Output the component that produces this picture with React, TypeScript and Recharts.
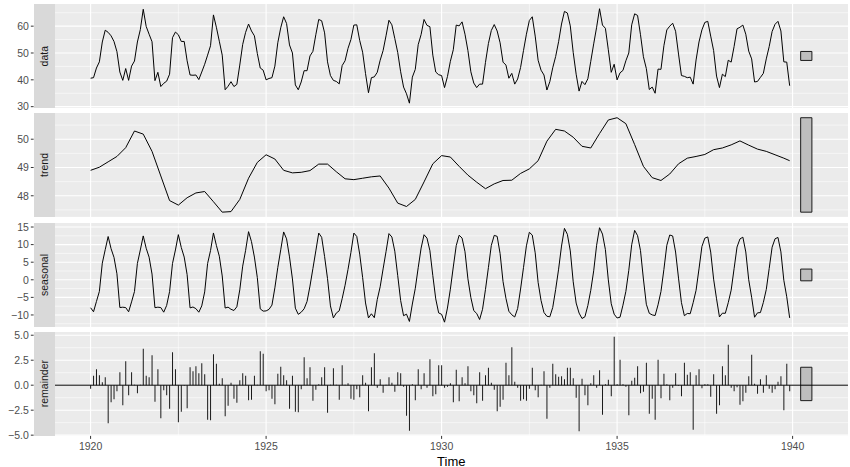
import React from "react";
import {
  ComposedChart,
  Line,
  Bar,
  XAxis,
  YAxis,
  CartesianGrid,
  ReferenceLine,
  ReferenceArea,
} from "recharts";

// monthly Nottingham temperatures, Jan 1920 .. Dec 1939
const firstYear = 1920;
const temperature = [
  40.6, 40.8, 44.4, 46.7, 54.1, 58.5, 57.7, 56.4, 54.3, 50.5, 42.9, 39.8,
  44.2, 39.8, 45.1, 47.0, 54.1, 58.7, 66.3, 59.9, 57.0, 54.2, 39.7, 42.8,
  37.5, 38.7, 39.5, 42.1, 55.7, 57.8, 56.8, 54.3, 54.3, 47.1, 41.8, 41.7,
  41.8, 40.1, 42.9, 45.8, 49.2, 52.7, 64.2, 59.6, 54.4, 49.2, 36.3, 37.6,
  39.3, 37.5, 38.3, 45.5, 53.2, 57.7, 60.8, 58.2, 56.4, 49.8, 44.4, 43.6,
  40.0, 40.5, 40.8, 45.1, 53.8, 59.4, 63.5, 61.0, 53.0, 50.0, 38.1, 36.3,
  39.2, 43.4, 43.4, 48.9, 50.6, 56.8, 62.5, 62.0, 57.5, 46.7, 41.6, 39.8,
  39.4, 38.5, 45.3, 47.1, 51.7, 55.0, 60.4, 60.5, 54.7, 50.3, 42.3, 35.2,
  40.8, 41.1, 42.8, 47.3, 50.9, 56.4, 62.2, 60.5, 55.4, 50.2, 43.0, 37.3,
  34.8, 31.3, 41.0, 43.9, 53.1, 56.9, 62.5, 60.3, 59.8, 49.2, 42.9, 41.9,
  41.6, 37.1, 41.2, 46.9, 51.2, 60.4, 60.1, 61.6, 57.0, 50.9, 43.0, 38.8,
  37.1, 38.4, 38.4, 46.5, 53.5, 58.4, 60.6, 58.2, 53.8, 46.6, 45.5, 40.6,
  42.4, 38.4, 40.3, 44.6, 50.9, 57.0, 62.1, 63.5, 56.3, 47.3, 43.6, 41.8,
  36.2, 39.3, 44.5, 48.7, 54.2, 60.8, 65.5, 64.9, 60.1, 50.2, 42.1, 35.8,
  39.4, 38.2, 40.4, 46.9, 53.4, 59.6, 66.5, 60.4, 59.2, 51.2, 42.8, 45.8,
  40.0, 42.6, 43.5, 47.1, 50.0, 60.5, 64.6, 64.0, 56.8, 48.6, 44.2, 36.4,
  37.3, 35.0, 44.0, 43.9, 52.7, 58.6, 60.0, 61.1, 58.1, 49.6, 41.6, 41.3,
  40.8, 41.0, 38.4, 47.4, 54.1, 58.6, 61.4, 61.8, 56.3, 50.9, 41.4, 37.1,
  42.1, 41.2, 47.3, 46.6, 52.4, 59.0, 59.6, 60.4, 57.0, 50.7, 47.8, 39.2,
  39.4, 40.9, 42.4, 47.8, 52.4, 58.0, 60.7, 61.8, 58.2, 46.7, 46.6, 37.8,
];

// trend read every quarter (Jan, Apr, Jul, Oct) plus the last month
const trendQuarterly = [
  48.9, 49.01, 49.2, 49.39, 49.7, 50.29, 50.18, 49.57,
  48.7, 47.83, 47.67, 47.93, 48.1, 48.15, 47.79, 47.42,
  47.44, 47.87, 48.62, 49.18, 49.45, 49.3, 48.9, 48.81,
  48.83, 48.89, 49.12, 49.12, 48.85, 48.6, 48.57, 48.62,
  48.67, 48.7, 48.27, 47.74, 47.62, 47.87, 48.49, 49.13,
  49.42, 49.37, 49.04, 48.73, 48.48, 48.25, 48.42, 48.54,
  48.55, 48.79, 48.95, 49.24, 49.93, 50.35, 50.29, 50.07,
  49.75, 49.69, 50.2, 50.68, 50.76, 50.55, 49.81, 49.04,
  48.64, 48.54, 48.77, 49.13, 49.33, 49.39, 49.46, 49.63,
  49.69, 49.8, 49.94, 49.79, 49.65, 49.57, 49.45, 49.33,
];
const trendLastMonth = 49.24;

const seasonal = [
  -7.95, -9.09, -6.17, -3.31, 4.73, 8.56, 12.3, 8.84, 6.37, 1.71, -7.89, -7.8,
  -7.9, -9.1, -6.29, -3.34, 4.65, 8.48, 12.47, 8.97, 6.43, 1.63, -7.93, -7.79,
  -7.9, -9.21, -7.3, -3.38, 4.62, 8.48, 12.83, 9.19, 6.46, 1.47, -7.99, -7.74,
  -8.2, -9.22, -7.43, -3.45, 4.62, 8.29, 13.31, 9.78, 6.71, 1.08, -8.03, -7.78,
  -8.39, -8.73, -7.68, -2.87, 3.88, 8.38, 13.68, 10.84, 6.46, 0.62, -8.27, -8.91,
  -8.85, -8.4, -7.2, -2.3, 3.48, 8.52, 13.6, 11.63, 6.51, 0.24, -8.07, -9.82,
  -9.23, -8.25, -6.17, -1.79, 3.18, 8.21, 13.28, 12.08, 6.58, 0.33, -7.43, -10.84,
  -9.45, -8.82, -5.38, -1.55, 2.91, 7.77, 13.28, 12.31, 7.3, 0.68, -6.59, -10.85,
  -9.67, -10.78, -5.64, -2.0, 3.09, 7.99, 13.13, 12.16, 8.13, 1.16, -5.9, -10.21,
  -9.77, -11.85, -6.89, -2.47, 3.42, 9.02, 12.81, 11.85, 8.28, 1.17, -5.43, -9.42,
  -9.82, -12.05, -8.04, -2.67, 3.64, 9.7, 12.66, 11.86, 7.97, 0.27, -5.05, -8.76,
  -9.58, -11.3, -8.38, -2.75, 3.44, 9.79, 12.63, 12.34, 7.45, -0.49, -5.29, -8.95,
  -9.95, -10.58, -8.16, -2.64, 3.46, 9.65, 13.5, 12.7, 7.66, -0.74, -5.87, -9.3,
  -10.38, -10.52, -7.86, -2.75, 3.02, 9.59, 14.61, 12.93, 8.21, -0.57, -6.61, -9.46,
  -11.0, -10.53, -7.31, -2.99, 2.54, 9.82, 14.8, 12.99, 8.58, -0.03, -6.81, -9.78,
  -10.86, -10.64, -7.22, -3.3, 2.7, 9.99, 14.04, 12.55, 8.3, 0.21, -6.96, -9.52,
  -9.99, -10.16, -7.12, -3.34, 2.93, 9.81, 12.73, 12.46, 7.89, 0.47, -6.5, -10.21,
  -9.58, -9.65, -6.52, -2.99, 3.09, 9.46, 11.84, 12.18, 7.88, 0.17, -5.4, -10.57,
  -9.49, -9.53, -6.51, -2.95, 3.15, 9.31, 11.61, 12.11, 7.91, 0.01, -4.99, -10.65,
  -9.4, -9.32, -6.45, -2.77, 3.22, 9.26, 11.65, 12.04, 7.93, -0.13, -4.83, -10.84,
];

const remainder = [
  -0.35, 0.95, 1.6, 1.0, 0.3, 0.8, -3.8, -1.7, -1.4, -0.6, 1.3, -2.0,
  2.4, -1.0, 1.3, 0.05, -0.8, 0.05, 3.65, 0.95, 0.8, 3.0, -1.65, 1.6,
  -3.3, -0.5, -1.0, -2.35, 3.3, 1.6, -3.7, -2.65, -0.05, -2.3, 1.8, 1.4,
  1.9, 1.2, 2.2, 1.1, -3.45, -3.5, 3.1, 2.15, 0.15, 0.7, -3.1, -2.05,
  0.25, -1.35, -1.75, 0.5, 1.2, 0.95, -1.5, -1.45, 0.95, 0.05, 3.4, 3.15,
  -0.6, -0.5, -1.35, -1.9, 1.15, 1.85, 1.0, 0.5, -2.35, 0.95, -2.65, -2.7,
  -0.4, 2.8, 0.7, 1.8, -1.55, -0.45, 0.1, 0.8, 1.8, -2.75, 0.05, 1.7,
  0.05, -1.45, 2.0, 0.05, 0.2, -1.35, -1.45, -0.4, -1.2, 1.0, 0.25, -2.6,
  1.8, 3.2, -0.25, 0.6, -0.75, 0.05, 0.8, 0.25, -0.65, 1.3, 1.2, -0.15,
  -3.05, -4.55, 0.1, -1.5, 1.6, -0.4, 1.2, -0.25, 2.6, -1.1, -0.9, 2.0,
  2.0, -0.25, -0.15, 0.2, -1.7, 1.55, -1.6, 0.8, 0.2, 1.9, -0.6, -1.0,
  -1.8, 1.3, -1.55, 1.0, 1.75, 0.25, -0.45, -2.6, -2.15, -1.45, 2.25, 1.0,
  3.8, 0.35, -0.25, -1.55, -1.4, -1.55, -0.35, 1.75, -0.5, -1.2, 0.05, 1.4,
  -3.35, -0.25, 2.15, 1.1, 0.85, 0.9, 0.6, 1.75, 1.75, 0.7, -1.25, -4.6,
  0.65, -1.0, -2.0, 0.2, 1.0, -0.25, 1.5, -2.95, 0.1, 0.55, -1.1, 4.85,
  0.1, 2.55, 0.1, -0.15, -3.0, 0.45, 0.75, 1.9, -0.8, -0.65, 2.25, -2.85,
  -1.35, -3.45, 2.55, -1.3, 1.15, 0.1, -1.5, -0.25, 1.2, -0.05, -1.1, 2.25,
  1.05, 1.3, -4.45, 1.0, 1.6, -0.3, 0.1, 0.1, -1.15, 1.1, -2.85, -2.0,
  1.9, 1.0, 4.05, -0.25, -0.6, -0.2, -1.95, -1.6, -0.75, 0.9, 3.05, 0.15,
  -0.85, 0.6, -0.75, 1.0, -0.35, -0.75, -0.4, 0.35, 0.9, -2.5, 2.15, -0.6,
];

const xTicks = [1920, 1925, 1930, 1935, 1940];
const xMinorTicks = [1922.5, 1927.5, 1932.5, 1937.5];
const rangeBarX = [1940.23, 1940.55];

// layout (page pixels)
const PANEL_TOP = 4;
const PANEL_H = 103.9;
const PANEL_GAP = 5.5;
const AXIS_W = 54.5;
const RIGHT_MARGIN = 2;
const X_AXIS_H = 24;

const monthTime = (i: number) => firstYear + i / 12;
const dataRows = temperature.map((v, i) => ({ t: monthTime(i), v }));
const trendRows = [
  ...trendQuarterly.map((v, i) => ({ t: firstYear + i / 4, v })),
  { t: monthTime(temperature.length - 1), v: trendLastMonth },
];
const seasonalRows = seasonal.map((v, i) => ({ t: monthTime(i), v }));
const remainderRows = remainder.map((v, i) => ({ t: monthTime(i), v }));

const extent = (vals: number[]): [number, number] => [Math.min(...vals), Math.max(...vals)];
const expand = ([a, b]: [number, number]): [number, number] => [a - 0.05 * (b - a), b + 0.05 * (b - a)];

const xDomain = expand([firstYear, rangeBarX[1]]);

const ranges = [
  extent(temperature),
  extent(trendRows.map((r) => r.v)),
  extent(seasonal),
  extent(remainder),
];
const barLength = Math.min(...ranges.map(([a, b]) => b - a));

const minus = (s: string) => s.replace("-", "\u2212");

const panels = [
  {
    label: "data",
    rows: dataRows,
    majors: [30, 40, 50, 60],
    minors: [35, 45, 55, 65],
    fmt: (v: number) => String(v),
  },
  {
    label: "trend",
    rows: trendRows,
    majors: [48, 49, 50],
    minors: [47.5, 48.5, 49.5, 50.5],
    fmt: (v: number) => String(v),
  },
  {
    label: "seasonal",
    rows: seasonalRows,
    majors: [-10, -5, 0, 5, 10, 15],
    minors: [-12.5, -7.5, -2.5, 2.5, 7.5, 12.5],
    fmt: (v: number) => minus(String(v)),
  },
  {
    label: "remainder",
    rows: remainderRows,
    majors: [-5, -2.5, 0, 2.5, 5],
    minors: [-3.75, -1.25, 1.25, 3.75],
    fmt: (v: number) => minus(v.toFixed(1)),
  },
];

const makeTick = (fmt: (v: number) => string) => (props: any) => {
  const { y, payload } = props;
  return (
    <g>
      <line x1={30.8} x2={33.6} y1={y} y2={y} stroke="#333333" strokeWidth={1} />
      <text x={28.8} y={y} dy="0.36em" textAnchor="end" fontSize={10.5} fill="#4D4D4D">
        {fmt(payload.value)}
      </text>
    </g>
  );
};

function Panel({ index }: { index: number }) {
  const p = panels[index];
  const range = ranges[index];
  const yDomain = expand(range);
  const mid = (range[0] + range[1]) / 2;
  const isLast = index === panels.length - 1;
  const top = PANEL_TOP + index * (PANEL_H + PANEL_GAP);

  return (
    <>
      <div style={{ position: "absolute", left: 0, top }}>
        <ComposedChart
          width={850}
          height={PANEL_H + (isLast ? X_AXIS_H : 0)}
          data={p.rows}
          margin={{ top: 0, right: RIGHT_MARGIN, bottom: 0, left: 0 }}
        >
          <CartesianGrid
            fill="#EBEBEB"
            stroke="#FFFFFF"
            strokeWidth={0.55}
            horizontalValues={p.minors}
            verticalValues={xMinorTicks}
          />
          <CartesianGrid
            stroke="#FFFFFF"
            strokeWidth={1.1}
            horizontalValues={p.majors}
            verticalValues={xTicks}
          />
          <XAxis
            dataKey="t"
            type="number"
            domain={xDomain}
            allowDataOverflow
            hide={!isLast}
            ticks={xTicks}
            interval={0}
            axisLine={false}
            tickLine={{ stroke: "#333333" }}
            tickSize={3}
            tickMargin={4}
            height={isLast ? X_AXIS_H : 0}
            tick={{ fontSize: 10.5, fill: "#4D4D4D" }}
          />
          <YAxis
            type="number"
            domain={yDomain}
            allowDataOverflow
            ticks={p.majors}
            interval={0}
            width={AXIS_W}
            axisLine={false}
            tickLine={false}
            tick={makeTick(p.fmt)}
          />
          {isLast && (
            <Bar dataKey="v" fill="#1A1A1A" barSize={1} isAnimationActive={false} />
          )}
          {isLast && <ReferenceLine y={0} stroke="#000000" strokeWidth={1} />}
          {!isLast && (
            <Line
              dataKey="v"
              type="linear"
              stroke="#000000"
              strokeWidth={1}
              dot={false}
              isAnimationActive={false}
            />
          )}
          <ReferenceArea
            x1={rangeBarX[0]}
            x2={rangeBarX[1]}
            y1={mid - barLength / 2}
            y2={mid + barLength / 2}
            fill="#BEBEBE"
            fillOpacity={1}
            stroke="#1A1A1A"
            strokeWidth={1}
          />
        </ComposedChart>
      </div>
      <div
        style={{
          position: "absolute",
          left: 34,
          top,
          width: AXIS_W - 34,
          height: PANEL_H,
          background: "#D9D9D9",
          display: "flex",
          alignItems: "center",
          justifyContent: "center",
        }}
      >
        <span
          style={{
            writingMode: "vertical-rl",
            transform: "rotate(180deg)",
            fontSize: 10.5,
            color: "#1A1A1A",
            lineHeight: 1,
          }}
        >
          {p.label}
        </span>
      </div>
    </>
  );
}

export default function App() {
  return (
    <div
      style={{
        position: "absolute",
        left: 0,
        top: 0,
        width: 850,
        height: 467,
        background: "#FFFFFF",
        fontFamily: "'Liberation Sans', Arial, Helvetica, sans-serif",
        overflow: "hidden",
      }}
    >
      <style>{`.recharts-wrapper, .recharts-surface { overflow: visible !important; }`}</style>
      {panels.map((_, i) => (
        <Panel key={i} index={i} />
      ))}
      <div
        style={{
          position: "absolute",
          left: (AXIS_W + 850 - RIGHT_MARGIN) / 2,
          top: 461,
          transform: "translate(-50%, -50%)",
          fontSize: 13,
          color: "#000000",
          lineHeight: 1,
        }}
      >
        Time
      </div>
    </div>
  );
}
